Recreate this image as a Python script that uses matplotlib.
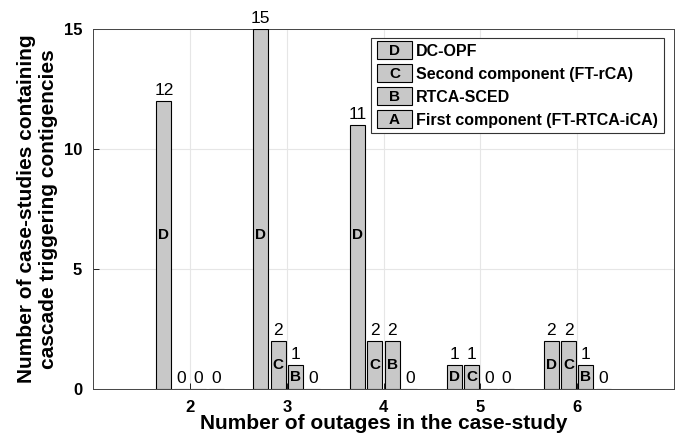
import matplotlib
matplotlib.use('Agg')
import matplotlib.pyplot as plt
from matplotlib.patches import Rectangle
from matplotlib.legend_handler import HandlerBase
import numpy as np

plt.rcParams['font.family'] = ['Liberation Sans', 'DejaVu Sans']

outages = [2, 3, 4, 5, 6]
letters = ['D', 'C', 'B', 'A']
names = ['DC-OPF', 'Second component (FT-rCA)', 'RTCA-SCED',
         'First component (FT-RTCA-iCA)']
dc_opf = [12, 15, 11, 1, 2]
second_comp = [0, 2, 2, 1, 2]
rtca_sced = [0, 1, 2, 0, 1]
first_comp = [0, 0, 0, 0, 0]
series = [dc_opf, second_comp, rtca_sced, first_comp]

offsets = [-0.27, -0.09, 0.09, 0.27]
width = 0.155
gray = '#c8c8c8'


class LetterBox(HandlerBase):
    def __init__(self, letter):
        super().__init__()
        self.letter = letter

    def create_artists(self, legend, orig_handle, xdescent, ydescent,
                       width, height, fontsize, trans):
        r = Rectangle((-xdescent, -ydescent - 2.5), width, height + 5,
                      facecolor=gray, edgecolor='black', lw=0.8,
                      transform=trans)
        t = plt.Text(-xdescent + width / 2, -ydescent + height / 2 - 1,
                     self.letter, ha='center', va='center',
                     fontsize=11, fontweight='bold', transform=trans)
        return [r, t]


fig = plt.figure(figsize=(6.85, 4.33), dpi=100)
ax = fig.add_axes([0.136, 0.102, 0.848, 0.831])

x = np.array(outages, dtype=float)
for k in range(4):
    vals = series[k]
    xs = x + offsets[k]
    ax.bar(xs, vals, width, color=gray, edgecolor='black', linewidth=0.8,
           zorder=3)
    for xi, v in zip(xs, vals):
        ax.text(xi, v + 0.12, str(v), ha='center', va='bottom',
                fontsize=12.5, zorder=4)
        if v > 0:
            ly = v / 2 if v <= 2 else 6.4
            ax.text(xi, ly, letters[k], ha='center', va='center',
                    fontsize=11, fontweight='bold', zorder=4)

ax.set_xlim(1, 7)
ax.set_ylim(0, 15)
ax.set_xticks(outages)
ax.set_yticks([0, 5, 10, 15])
ax.tick_params(axis='both', labelsize=12, direction='in', length=4,
               width=0.6, pad=8)
for lab in ax.get_xticklabels() + ax.get_yticklabels():
    lab.set_fontweight('bold')
ax.grid(True, color='#e6e6e6', linewidth=0.8, zorder=0)
for s in ax.spines.values():
    s.set_linewidth(0.7)
    s.set_color('#444444')

ax.set_xlabel('Number of outages in the case-study', fontsize=15,
              fontweight='bold', labelpad=-1)
ax.set_ylabel('Number of case-studies containing\ncascade triggering contigencies',
              fontsize=15, fontweight='bold', labelpad=4, linespacing=1.2)

handles = [Rectangle((0, 0), 1, 1) for _ in letters]
hmap = {h: LetterBox(l) for h, l in zip(handles, letters)}
leg = ax.legend(handles, names, handler_map=hmap, loc='upper right',
                bbox_to_anchor=(0.982, 0.975),
                prop={'weight': 'bold', 'size': 11.5},
                fancybox=False, edgecolor='#333333', framealpha=1,
                handlelength=2.2, handletextpad=0.25, labelspacing=0.5,
                borderpad=0.35, borderaxespad=0)
leg.get_frame().set_linewidth(0.8)

fig.savefig('out.png', dpi=100)
